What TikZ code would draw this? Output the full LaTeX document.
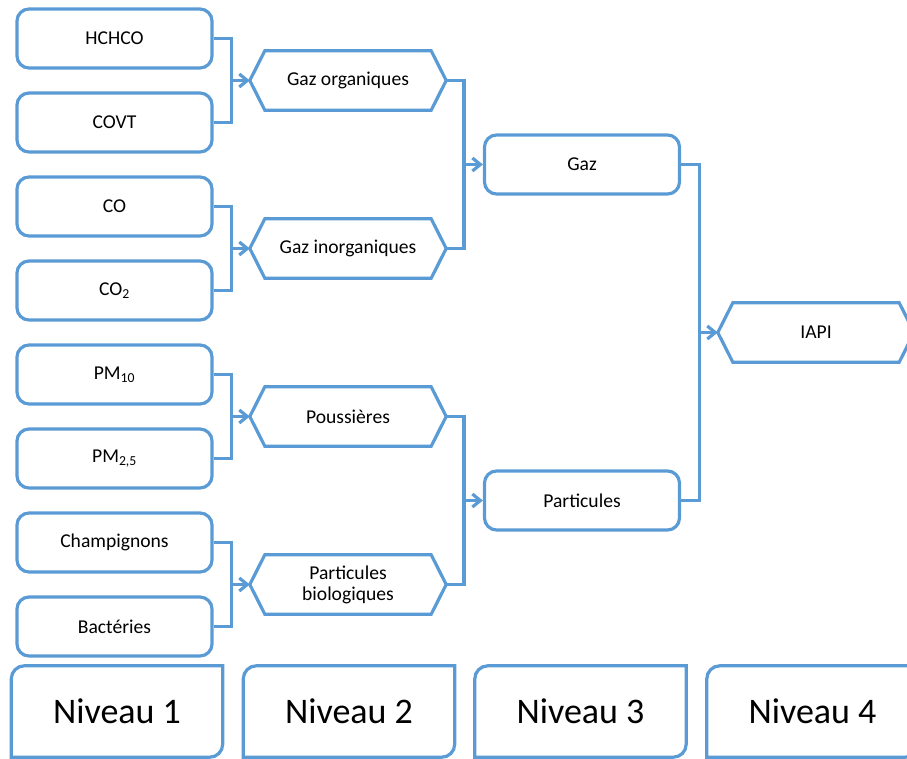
\documentclass[tikz,border=0pt]{standalone}
\usepackage{fontspec}
\setmainfont{Carlito}
\usetikzlibrary{arrows.meta}
\definecolor{bleu}{RGB}{91,155,213}

\begin{document}
\begin{tikzpicture}[x=1pt,y=1pt]
\tikzstyle{every node}+=[inner sep=0pt, font=\fontsize{19.6}{21}\selectfont, text=black]
\tikzstyle{ligne}=[draw=bleu, line width=3.2pt]
\tikzstyle{boite}=[ligne, rounded corners=12pt, minimum width=195pt, minimum height=59pt]
\tikzstyle{hexa}=[minimum width=166pt, minimum height=59pt, align=center]
\tikzstyle{fleche}=[ligne, -{Straight Barb[length=8pt,width=13pt]}]
\tikzstyle{niveau}=[minimum width=211pt, minimum height=91pt, font=\fontsize{36}{40}\selectfont]
\useasboundingbox (0,0) rectangle (907,-759);
\node [boite] (hchco) at (114.5,-38.5) {HCHCO};
\node [boite] (covt) at (114.5,-122.5) {COVT};
\node [boite] (co) at (114.5,-206.5) {CO};
\node [boite] (co2) at (114.5,-290.5) {CO\textsubscript{2}};
\node [boite] (pm10) at (114.5,-374.5) {PM\textsubscript{10}};
\node [boite] (pm25) at (114.5,-458.5) {PM\textsubscript{2,5}};
\node [boite] (champ) at (114.5,-542.5) {Champignons};
\node [boite] (bact) at (114.5,-626.5) {Bactéries};
\node [hexa] (orga) at (348,-80.5) {Gaz organiques};
\node [hexa] (inorga) at (348,-248.5) {Gaz inorganiques};
\node [hexa] (pouss) at (348,-416.5) {Poussières};
\node [hexa] (bio) at (348,-584.5) {Particules\\biologiques};
\node [boite] (gaz) at (582,-164.5) {Gaz};
\node [boite] (part) at (582,-500.5) {Particules};
\node [hexa] (iapi) at (816,-332.5) {IAPI};
\foreach \n in {orga,inorga,pouss,bio,iapi} {
\draw [ligne] (\n.north west) -- (\n.north east) -- ([xshift=15pt]\n.east) -- (\n.south east) -- (\n.south west) -- ([xshift=-15pt]\n.west) -- cycle;
\coordinate (\n-in) at ([xshift=-15pt]\n.west);
\coordinate (\n-out) at ([xshift=15pt]\n.east);
}
\draw [ligne] (covt.east) -| ([xshift=-18pt]orga-in);
\draw [fleche] (hchco.east) -| ([xshift=-18pt]orga-in) -- (orga-in);
\draw [ligne] (co2.east) -| ([xshift=-18pt]inorga-in);
\draw [fleche] (co.east) -| ([xshift=-18pt]inorga-in) -- (inorga-in);
\draw [ligne] (pm25.east) -| ([xshift=-18pt]pouss-in);
\draw [fleche] (pm10.east) -| ([xshift=-18pt]pouss-in) -- (pouss-in);
\draw [ligne] (bact.east) -| ([xshift=-18pt]bio-in);
\draw [fleche] (champ.east) -| ([xshift=-18pt]bio-in) -- (bio-in);
\draw [ligne] (inorga-out) -| ([xshift=-19pt]gaz.west);
\draw [fleche] (orga-out) -| ([xshift=-19pt]gaz.west) -- (gaz.west);
\draw [ligne] (bio-out) -| ([xshift=-19pt]part.west);
\draw [fleche] (pouss-out) -| ([xshift=-19pt]part.west) -- (part.west);
\draw [ligne] (part.east) -| ([xshift=-18pt]iapi-in);
\draw [fleche] (gaz.east) -| ([xshift=-18pt]iapi-in) -- (iapi-in);
\node [niveau] (niv1) at (117,-711.5) {Niveau 1};
\node [niveau] (niv2) at (349,-711.5) {Niveau 2};
\node [niveau] (niv3) at (580.5,-711.5) {Niveau 3};
\node [niveau] (niv4) at (812.5,-711.5) {Niveau 4};
\foreach \n in {niv1,niv2,niv3,niv4}
\draw [ligne] (\n.south west) -- ([yshift=-13pt]\n.north west) arc[start angle=180, end angle=90, radius=13pt] -- (\n.north east) -- ([yshift=13pt]\n.south east) arc[start angle=0, end angle=-90, radius=13pt] -- cycle;
\end{tikzpicture}
\end{document}
